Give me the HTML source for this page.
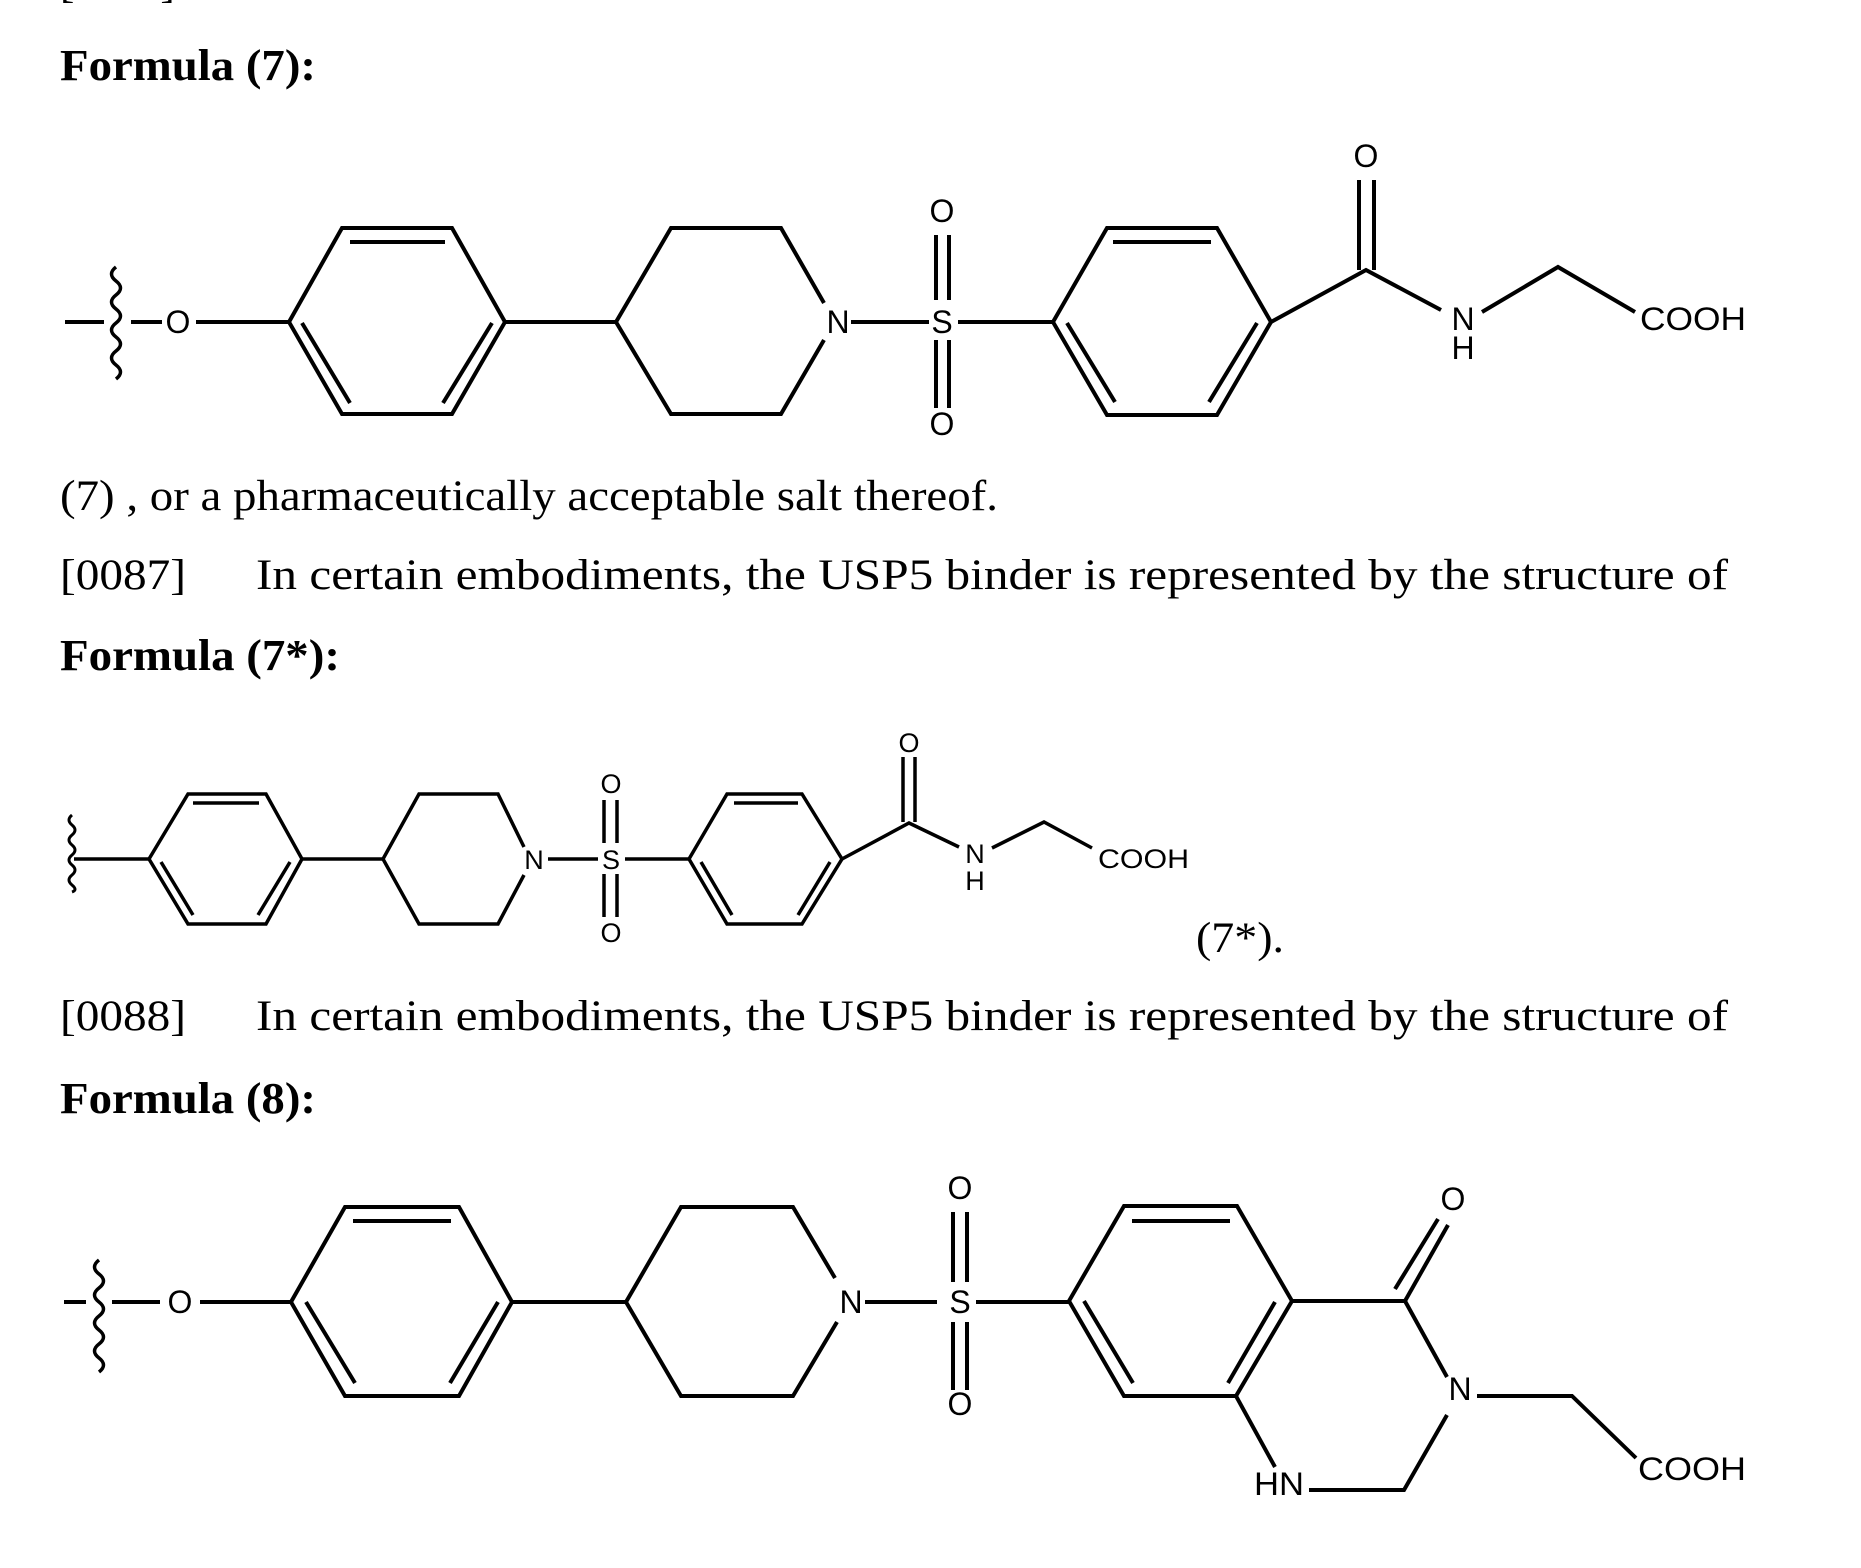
<!DOCTYPE html>
<html><head><meta charset="utf-8"><style>
html,body{margin:0;padding:0;background:#fff;}
svg{display:block;}
.t{font-family:"Liberation Serif",serif;font-size:43px;fill:#000;}
.b{font-family:"Liberation Serif",serif;font-size:44px;font-weight:bold;fill:#000;}
.a{font-family:"Liberation Sans",sans-serif;font-size:32px;fill:#000;}
.s{font-family:"Liberation Sans",sans-serif;font-size:27px;fill:#000;}
</style></head><body>
<svg width="1861" height="1568" viewBox="0 0 1861 1568" xmlns="http://www.w3.org/2000/svg">
<rect width="1861" height="1568" fill="#fff"/>
<text class="t" x="60" y="-3">[0086]</text>
<text class="b" x="60" y="80" textLength="256" lengthAdjust="spacingAndGlyphs">Formula (7):</text>
<text class="t" x="60" y="510" textLength="938" lengthAdjust="spacingAndGlyphs">(7) , or a pharmaceutically acceptable salt thereof.</text>
<text class="t" x="60" y="589" textLength="126" lengthAdjust="spacingAndGlyphs">[0087]</text>
<text class="t" x="256" y="589" textLength="1472" lengthAdjust="spacingAndGlyphs">In certain embodiments, the USP5 binder is represented by the structure of</text>
<text class="b" x="60" y="670" textLength="280" lengthAdjust="spacingAndGlyphs">Formula (7*):</text>
<text class="t" x="1196" y="952" textLength="88" lengthAdjust="spacingAndGlyphs">(7*).</text>
<text class="t" x="60" y="1030" textLength="126" lengthAdjust="spacingAndGlyphs">[0088]</text>
<text class="t" x="256" y="1030" textLength="1472" lengthAdjust="spacingAndGlyphs">In certain embodiments, the USP5 binder is represented by the structure of</text>
<text class="b" x="60" y="1113" textLength="256" lengthAdjust="spacingAndGlyphs">Formula (8):</text>

<g fill="none" stroke="#000" stroke-width="4" stroke-linecap="butt" stroke-linejoin="miter">
<line x1="65" y1="322" x2="104" y2="322"/>
<path d="M116 267 q-9 7 0 14 q9 7 0 14 q-9 7 0 14 q9 7 0 14 q-9 7 0 14 q9 7 0 14 q-9 7 0 14 q9 7 0 14" stroke-width="3.5"/>
<line x1="131" y1="322" x2="162" y2="322"/>
<line x1="196" y1="322" x2="289" y2="322"/>
<polygon points="289,322 342,228 452,228 505,322 452,414 342,414"/>
<line x1="350" y1="242" x2="445" y2="242"/>
<line x1="302" y1="323" x2="350" y2="403"/>
<line x1="492" y1="323" x2="443" y2="403"/>
<line x1="505" y1="322" x2="616" y2="322"/>
<polyline points="824,303 781,228 671,228 616,322 671,414 781,414 824,340"/>
<line x1="851" y1="322" x2="929" y2="322"/>
<line x1="936" y1="235" x2="936" y2="300"/><line x1="949" y1="235" x2="949" y2="300"/>
<line x1="936" y1="340" x2="936" y2="408"/><line x1="949" y1="340" x2="949" y2="408"/>
<line x1="958" y1="322" x2="1053" y2="322"/>
<polygon points="1053,322 1107,228 1217,228 1271,322 1217,415 1107,415"/>
<line x1="1113" y1="242" x2="1211" y2="242"/>
<line x1="1067" y1="323" x2="1115" y2="402"/>
<line x1="1257" y1="323" x2="1209" y2="402"/>
<polyline points="1271,322 1366,270 1441,310"/>
<line x1="1359" y1="180" x2="1359" y2="270"/><line x1="1374" y1="180" x2="1374" y2="270"/>
<polyline points="1482,312 1558,267 1635,312"/>

<path d="M72 815 q-6 5 0 10 q6 5 0 10 q-6 5 0 10 q6 5 0 10 q-6 5 0 10 q6 5 0 10 q-6 5 0 10 q6 5 0 7" stroke-width="3"/>
<line x1="74" y1="859" x2="149" y2="859" stroke-width="3.5"/>
<g stroke-width="3.5">
<polygon points="149,859 188,794 266,794 302,859 266,924 188,924"/>
<line x1="193" y1="803" x2="259" y2="803"/>
<line x1="161" y1="862" x2="193" y2="915"/>
<line x1="290" y1="862" x2="258" y2="915"/>
<line x1="302" y1="859" x2="383" y2="859"/>
<polyline points="524,847 498,794 419,794 383,859 419,924 498,924 524,875"/>
<line x1="548" y1="859" x2="598" y2="859"/>
<line x1="604" y1="800" x2="604" y2="843"/><line x1="617" y1="800" x2="617" y2="843"/>
<line x1="604" y1="874" x2="604" y2="917"/><line x1="617" y1="874" x2="617" y2="917"/>
<line x1="625" y1="859" x2="689" y2="859"/>
<polygon points="689,859 727,794 802,794 842,859 802,924 727,924"/>
<line x1="734" y1="803" x2="798" y2="803"/>
<line x1="701" y1="862" x2="732" y2="915"/>
<line x1="830" y1="862" x2="798" y2="915"/>
<polyline points="842,859 909,823 959,847"/>
<line x1="903" y1="757" x2="903" y2="822"/><line x1="915" y1="757" x2="915" y2="822"/>
<polyline points="992,848 1044,822 1092,848"/>
</g>

<line x1="64" y1="1302" x2="86" y2="1302"/>
<path d="M99 1260 q-9 7 0 14 q9 7 0 14 q-9 7 0 14 q9 7 0 14 q-9 7 0 14 q9 7 0 14 q-9 7 0 14 q9 7 0 14" stroke-width="3.5"/>
<line x1="112" y1="1302" x2="160" y2="1302"/>
<line x1="200" y1="1302" x2="291" y2="1302"/>
<polygon points="291,1302 345,1207 459,1207 512,1302 459,1396 345,1396"/>
<line x1="353" y1="1221" x2="451" y2="1221"/>
<line x1="306" y1="1302" x2="355" y2="1383"/>
<line x1="498" y1="1302" x2="450" y2="1383"/>
<line x1="512" y1="1302" x2="626" y2="1302"/>
<polyline points="835,1278 793,1207 681,1207 626,1302 681,1396 793,1396 837,1322"/>
<line x1="865" y1="1302" x2="937" y2="1302"/>
<line x1="953" y1="1212" x2="953" y2="1282"/><line x1="967" y1="1212" x2="967" y2="1282"/>
<line x1="953" y1="1322" x2="953" y2="1390"/><line x1="967" y1="1322" x2="967" y2="1390"/>
<line x1="976" y1="1302" x2="1069" y2="1302"/>
<polygon points="1069,1301 1124,1206 1237,1206 1292,1301 1236,1396 1124,1396"/>
<line x1="1132" y1="1221" x2="1230" y2="1221"/>
<line x1="1084" y1="1301" x2="1133" y2="1383"/>
<line x1="1275" y1="1302" x2="1228" y2="1383"/>
<line x1="1292" y1="1301" x2="1405" y2="1301"/>
<line x1="1405" y1="1301" x2="1448" y2="1225"/>
<line x1="1395" y1="1289" x2="1438" y2="1219"/>
<line x1="1405" y1="1301" x2="1447" y2="1377"/>
<polyline points="1477,1396 1572,1396 1636,1458"/>
<polyline points="1447,1415 1404,1490 1309,1490"/>
<line x1="1236" y1="1396" x2="1275" y2="1467"/>
</g>

<g text-anchor="middle">
<text class="a" x="178" y="333">O</text>
<text class="a" x="838" y="333">N</text>
<text class="a" x="942" y="333">S</text>
<text class="a" x="942" y="222">O</text>
<text class="a" x="942" y="435">O</text>
<text class="a" x="1366" y="167">O</text>
<text class="a" x="1463" y="330">N</text>
<text class="a" x="1463" y="359">H</text>
<text class="s" x="534" y="869">N</text>
<text class="s" x="611" y="869">S</text>
<text class="s" x="611" y="793">O</text>
<text class="s" x="611" y="942">O</text>
<text class="s" x="909" y="752">O</text>
<text class="s" x="975" y="863">N</text>
<text class="s" x="975" y="890">H</text>
<text class="a" x="180" y="1313">O</text>
<text class="a" x="851" y="1313">N</text>
<text class="a" x="960" y="1313">S</text>
<text class="a" x="960" y="1199">O</text>
<text class="a" x="960" y="1415">O</text>
<text class="a" x="1453" y="1210">O</text>
<text class="a" x="1460" y="1400">N</text>
</g>
<text class="a" x="1640" y="330" textLength="106" lengthAdjust="spacingAndGlyphs">COOH</text>
<text class="s" x="1098" y="868" textLength="91" lengthAdjust="spacingAndGlyphs">COOH</text>
<text class="a" x="1638" y="1480" textLength="108" lengthAdjust="spacingAndGlyphs">COOH</text>
<text class="a" x="1254" y="1495" textLength="50" lengthAdjust="spacingAndGlyphs">HN</text>
</svg>
</body></html>
